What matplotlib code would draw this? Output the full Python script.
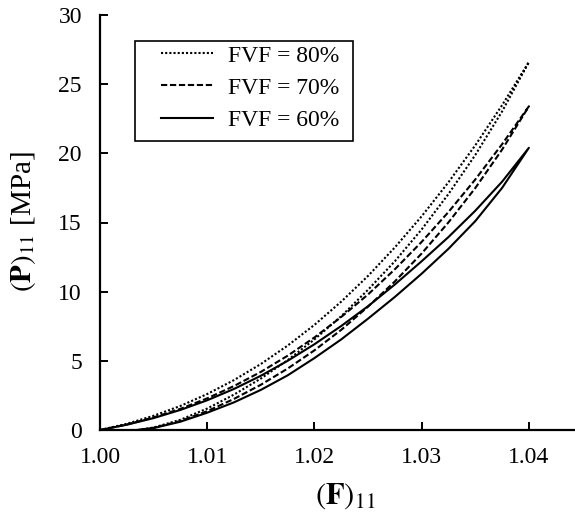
import matplotlib
matplotlib.use('Agg')
import matplotlib.pyplot as plt
from matplotlib.patches import Rectangle


# deformation gradient (F)11 for loading / unloading branches
F_up = [1.0000, 1.0025, 1.0050, 1.0075, 1.0100, 1.0125, 1.0150, 1.0175, 1.0200,
        1.0225, 1.0250, 1.0275, 1.0300, 1.0325, 1.0350, 1.0375, 1.0400]
F_low = [1.0035, 1.0050, 1.0075, 1.0100, 1.0125, 1.0150, 1.0175, 1.0200,
         1.0225, 1.0250, 1.0275, 1.0300, 1.0325, 1.0350, 1.0375, 1.0400]

# (P)11 in MPa
P80_up = [0, 0.45, 1.03, 1.74, 2.60, 3.61, 4.77, 6.10, 7.60, 9.28, 11.14, 13.20,
          15.45, 17.91, 20.58, 23.48, 26.6]
P80_low = [0, 0.18, 0.74, 1.55, 2.56, 3.72, 5.05, 6.55, 8.23, 10.14, 12.20, 14.50,
           17.06, 19.88, 23.03, 26.6]
P70_up = [0, 0.40, 0.91, 1.53, 2.29, 3.18, 4.20, 5.37, 6.69, 8.17, 9.80, 11.62,
          13.60, 15.76, 18.11, 20.66, 23.4]
P70_low = [0, 0.16, 0.65, 1.36, 2.25, 3.27, 4.44, 5.76, 7.24, 8.92, 10.74, 12.76,
           15.01, 17.49, 20.27, 23.4]
P60_up = [0, 0.38, 0.86, 1.45, 2.15, 2.97, 3.92, 5.00, 6.20, 7.52, 8.95, 10.52,
          12.20, 13.95, 15.85, 17.95, 20.4]
P60_low = [0, 0.14, 0.60, 1.25, 2.00, 2.90, 3.95, 5.20, 6.55, 8.05, 9.62, 11.30,
           13.10, 15.10, 17.50, 20.4]

labels = ['FVF = 80%', 'FVF = 70%', 'FVF = 60%']
x_ticks = [1.00, 1.01, 1.02, 1.03, 1.04]
y_ticks = [0, 5, 10, 15, 20, 25, 30]

plt.rcParams['font.family'] = ['Liberation Serif', 'DejaVu Serif']
plt.rcParams['mathtext.fontset'] = 'stix'

W, H = 575, 514
fig = plt.figure(figsize=(W/100, H/100), dpi=100)
# axes box in pixels: left 100, right 575, top 15, bottom 430
ax = fig.add_axes([100/W, 1-430/H, 475/W, 415/H])

styles = [(0, (1, 1)), (0, (3, 1.3)), '-']
curves = [(P80_up, P80_low), (P70_up, P70_low), (P60_up, P60_low)]
for (up, low), ls, lab in zip(curves, styles, labels):
    x = F_up + F_low[::-1]
    y = up + low[::-1]
    ax.plot(x, y, color='black', linestyle=ls, linewidth=1.5, label=lab)

ax.set_xlim(1.0, 1.0443)
ax.set_ylim(0, 30)
ax.set_xticks(x_ticks)
ax.set_xticklabels(['%.2f' % v for v in x_ticks])
ax.set_yticks(y_ticks)
ax.tick_params(direction='in', length=6, width=1.4, labelsize=17)
ax.tick_params(axis='x', pad=12)
ax.tick_params(axis='y', pad=13)

ax.spines['top'].set_visible(False)
ax.spines['right'].set_visible(False)
ax.spines['bottom'].set_linewidth(1.6)
ax.spines['left'].set_linewidth(1.6)

fig.text(345/W, 1-496/H, r'$(\mathbf{F})_{11}$', fontsize=22, ha='center', va='center')
fig.text(24/W, 1-222/H, r'$(\mathbf{P})_{11}$ [MPa]', fontsize=21, ha='center', va='center',
         rotation=90)

# legend without frame, box drawn by hand
leg = ax.legend(loc='upper left', bbox_to_anchor=(161/W, 1-45/H),
                bbox_transform=fig.transFigure, frameon=False, fontsize=17,
                handlelength=2.2, handletextpad=0.64, labelspacing=0.45,
                borderpad=0, borderaxespad=0)
fig.add_artist(Rectangle((135/W, 1-141/H), (353-135)/W, 100/H, transform=fig.transFigure,
                         fill=False, edgecolor='black', linewidth=1.2))

fig.savefig('out.png', dpi=100)
